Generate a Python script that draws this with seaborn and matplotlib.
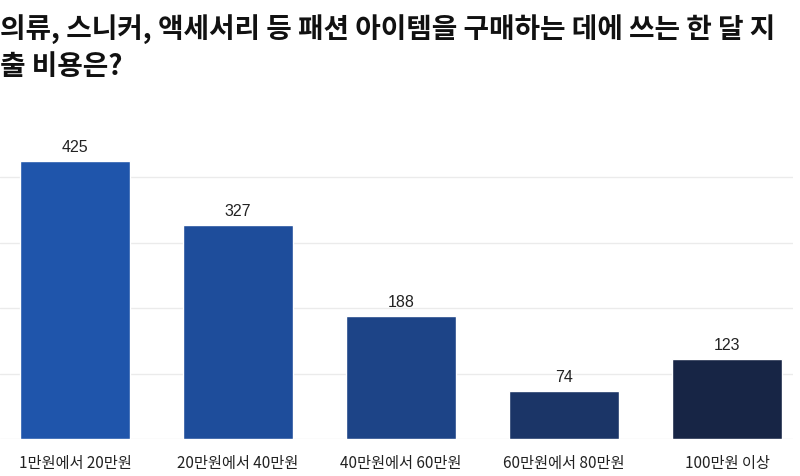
import matplotlib
matplotlib.use("Agg")
import matplotlib.pyplot as plt
import seaborn as sns
import pandas as pd

categories = ["1만원에서 20만원", "20만원에서 40만원", "40만원에서 60만원", "60만원에서 80만원", "100만원 이상"]
values = [425, 327, 188, 74, 123]
colors = ["#1F55AB", "#1E4D9B", "#1D4487", "#1B3567", "#172545"]
title_lines = ["의류, 스니커, 액세서리 등 패션 아이템을 구매하는 데에 쓰는 한 달 지", "출 비용은?"]

sns.set_theme(style="white")
plt.rcParams['font.family'] = ['Noto Sans CJK KR', 'DejaVu Sans']

W, H = 800, 477
fig = plt.figure(figsize=(W / 100, H / 100), dpi=100)
ax_left, ax_right = 0, 793
ax_bottom, ax_top = 440, 110
ax = fig.add_axes([ax_left / W, 1 - ax_bottom / H, (ax_right - ax_left) / W, (ax_bottom - ax_top) / H])

df = pd.DataFrame({"cat": categories, "val": values})
sns.barplot(data=df, x="cat", y="val", hue="cat", palette=colors, legend=False,
            width=0.675, ax=ax, saturation=1, zorder=3)

# x position mapping: bar centers at 75 + 163*i px
ax.set_xlim((ax_left - 75) / 163, (ax_right - 75) / 163)
ax.set_ylim(0, (ax_bottom - ax_top) / 0.654)
ax.set_yticks([0, 100, 200, 300, 400])
ax.yaxis.grid(True, color="#ebebeb", linewidth=1, zorder=0)
ax.set_yticklabels([])
ax.tick_params(axis="y", length=0)
ax.tick_params(axis="x", length=0, pad=11, labelsize=11, labelcolor="#222222")
for lab in ax.get_xticklabels():
    lab.set_family(['Noto Sans CJK KR', 'DejaVu Sans'])
ax.set_xlabel("")
ax.set_ylabel("")
for s in ax.spines.values():
    s.set_visible(False)

for i, v in enumerate(values):
    ax.annotate(str(v), (i, v), xytext=(0, 5), textcoords="offset points",
                ha="center", va="bottom", fontsize=11.5, color="#222222",
                family=['Liberation Sans', 'DejaVu Sans'])

fig.text(0.0, 1 - 29 / H, title_lines[0], ha="left", va="center", fontsize=20,
         fontweight="bold", color="#111111")
fig.text(0.0, 1 - 67 / H, title_lines[1], ha="left", va="center", fontsize=20,
         fontweight="bold", color="#111111")

fig.savefig("out.png", dpi=100)
